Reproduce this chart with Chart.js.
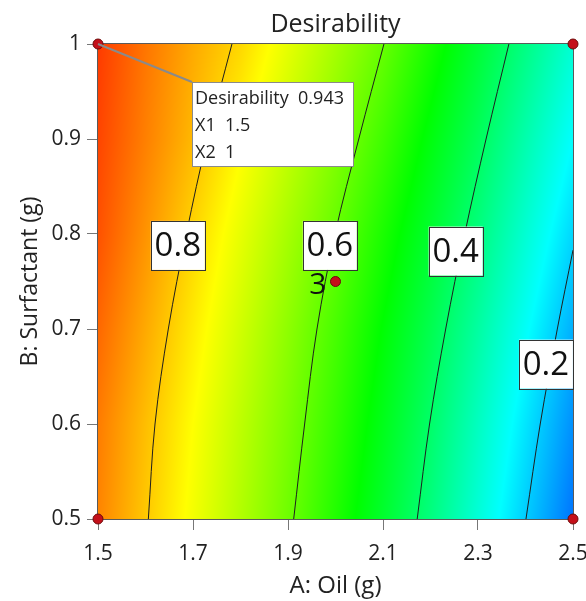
<!DOCTYPE html>
<html>
<head>
<meta charset="utf-8">
<script src="https://cdn.jsdelivr.net/npm/chart.js@4.4.0/dist/chart.umd.min.js"></script>
<style>
  html, body { margin: 0; padding: 0; background: #fff; }
  #wrap { width: 586px; height: 601px; }
</style>
</head>
<body>
<div id="wrap"><canvas id="chart" width="586" height="601"></canvas></div>
<script>
// Desirability on a coarse grid (A: Oil across, B: Surfactant rows)
const oilGrid = [1.5, 1.6, 1.7, 1.8, 1.9, 2.0, 2.1, 2.2, 2.3, 2.4, 2.5];
const surfGrid = [0.5, 0.6, 0.7, 0.8, 0.9, 1.0];
const desirAt050 = [0.870, 0.804, 0.739, 0.674, 0.608, 0.532, 0.455, 0.376, 0.288, 0.201, 0.114];
const desirAt060 = [0.879, 0.814, 0.750, 0.686, 0.622, 0.551, 0.475, 0.398, 0.312, 0.226, 0.141];
const desirAt070 = [0.899, 0.834, 0.769, 0.704, 0.639, 0.571, 0.497, 0.423, 0.342, 0.257, 0.172];
const desirAt080 = [0.921, 0.856, 0.791, 0.727, 0.663, 0.599, 0.526, 0.453, 0.377, 0.293, 0.210];
const desirAt090 = [0.933, 0.875, 0.819, 0.756, 0.693, 0.631, 0.562, 0.487, 0.413, 0.331, 0.250];
const desirAt100 = [0.943, 0.885, 0.834, 0.789, 0.726, 0.664, 0.601, 0.525, 0.449, 0.372, 0.292];
const desirRows = [desirAt050, desirAt060, desirAt070, desirAt080, desirAt090, desirAt100];

// Contour lines
const contourLevels = ['0.8', '0.6', '0.4', '0.2'];
const contour08 = [{x:1.606,y:0.5},{x:1.620,y:0.6},{x:1.648,y:0.7},{x:1.686,y:0.8},{x:1.730,y:0.9},{x:1.782,y:1.0}];
const contour06 = [{x:1.912,y:0.5},{x:1.935,y:0.6},{x:1.961,y:0.7},{x:1.999,y:0.8},{x:2.049,y:0.9},{x:2.102,y:1.0}];
const contour04 = [{x:2.172,y:0.5},{x:2.198,y:0.6},{x:2.232,y:0.7},{x:2.272,y:0.8},{x:2.317,y:0.9},{x:2.365,y:1.0}];
const contour02 = [{x:2.401,y:0.5},{x:2.431,y:0.6},{x:2.467,y:0.7},{x:2.500,y:0.783}];
const contourLines = [contour08, contour06, contour04, contour02];
const contourLabelAt = [{x:1.668,y:0.788},{x:1.988,y:0.788},{x:2.253,y:0.782},{x:2.443,y:0.663}];

// Design points (center point run 3 times)
const designPoints = [{x:1.5,y:0.5},{x:2.5,y:0.5},{x:1.5,y:1},{x:2.5,y:1},{x:2.0,y:0.75}];
const centerRuns = '3';

// Flagged point
const flagPoint = {x:1.5, y:1};
const flagText = ['Desirability  0.943', 'X1  1.5', 'X2  1'];

const xTicks = [1.5, 1.7, 1.9, 2.1, 2.3, 2.5];
const xTickLabels = ['1.5', '1.7', '1.9', '2.1', '2.3', '2.5'];
const yTicks = [0.5, 0.6, 0.7, 0.8, 0.9, 1.0];
const yTickLabels = ['0.5', '0.6', '0.7', '0.8', '0.9', '1'];

const FONT = '"Open Sans", "Noto Sans", sans-serif';
const TEXT = '#222';

// colour ramp blue -> cyan -> green -> yellow -> red over desirability 0..1
const ramp = [[0,0,255],[0,255,255],[0,255,0],[255,255,0],[255,0,0]];
function rampColor(v) {
  const t = Math.max(0, Math.min(1, v)) * (ramp.length - 1);
  const i = Math.min(ramp.length - 2, Math.floor(t));
  const f = t - i;
  return ramp[i].map((c, k) => Math.round(c + (ramp[i + 1][k] - c) * f));
}

function findCell(arr, v) {
  for (let i = 0; i < arr.length - 1; i++) {
    if (v <= arr[i + 1]) return i;
  }
  return arr.length - 2;
}

function desirAt(x, y) {
  const i = findCell(oilGrid, x), j = findCell(surfGrid, y);
  const fx = (x - oilGrid[i]) / (oilGrid[i + 1] - oilGrid[i]);
  const fy = (y - surfGrid[j]) / (surfGrid[j + 1] - surfGrid[j]);
  const a = desirRows[j][i], b = desirRows[j][i + 1];
  const c = desirRows[j + 1][i], d = desirRows[j + 1][i + 1];
  return (a * (1 - fx) + b * fx) * (1 - fy) + (c * (1 - fx) + d * fx) * fy;
}

const heatmapPlugin = {
  id: 'heatmap',
  beforeDatasetsDraw(chart) {
    const { ctx, chartArea: a, scales: { x, y } } = chart;
    const w = Math.round(a.right - a.left), h = Math.round(a.bottom - a.top);
    const off = document.createElement('canvas');
    off.width = w; off.height = h;
    const octx = off.getContext('2d');
    const img = octx.createImageData(w, h);
    for (let j = 0; j < h; j++) {
      const yv = y.getValueForPixel(a.top + j + 0.5);
      for (let i = 0; i < w; i++) {
        const xv = x.getValueForPixel(a.left + i + 0.5);
        const c = rampColor(desirAt(xv, yv));
        const k = (j * w + i) * 4;
        img.data[k] = c[0]; img.data[k + 1] = c[1]; img.data[k + 2] = c[2]; img.data[k + 3] = 255;
      }
    }
    octx.putImageData(img, 0, 0);
    ctx.save();
    ctx.drawImage(off, a.left, a.top);
    ctx.strokeStyle = '#5a5a5a';
    ctx.lineWidth = 1;
    ctx.strokeRect(a.left - 0.5, a.top - 0.5, w + 1, h + 1);
    ctx.restore();
  },
  afterDatasetsDraw(chart) {
    const { ctx, chartArea: a, scales: { x, y } } = chart;
    ctx.save();

    // contour labels
    ctx.font = '33px ' + FONT;
    ctx.textAlign = 'center';
    ctx.textBaseline = 'middle';
    contourLevels.forEach((lab, i) => {
      const px = x.getPixelForValue(contourLabelAt[i].x);
      const py = y.getPixelForValue(contourLabelAt[i].y);
      const bw = 54, bh = 49;
      ctx.fillStyle = '#fff';
      ctx.fillRect(px - bw / 2, py - bh / 2, bw, bh);
      ctx.strokeStyle = '#333';
      ctx.lineWidth = 1;
      ctx.strokeRect(Math.round(px - bw / 2) + 0.5, Math.round(py - bh / 2) + 0.5, bw, bh);
      ctx.fillStyle = '#111';
      ctx.fillText(lab, px, py + 1);
    });

    // replicate count next to the center point
    const cp = designPoints[4];
    ctx.font = '30px ' + FONT;
    ctx.textAlign = 'right';
    ctx.fillStyle = '#111';
    ctx.fillText(centerRuns, x.getPixelForValue(cp.x) - 9, y.getPixelForValue(cp.y) + 4);

    // flag
    const fx = x.getPixelForValue(flagPoint.x), fy = y.getPixelForValue(flagPoint.y);
    const bx = fx + 94, by = fy + 38, bw = 161, bh = 84;
    ctx.strokeStyle = '#8a8a8a';
    ctx.lineWidth = 2;
    ctx.beginPath();
    ctx.moveTo(fx, fy);
    ctx.lineTo(bx, by);
    ctx.stroke();
    ctx.fillStyle = '#fff';
    ctx.fillRect(bx, by, bw, bh);
    ctx.strokeStyle = '#8a8a8a';
    ctx.lineWidth = 1;
    ctx.strokeRect(Math.round(bx) + 0.5, Math.round(by) + 0.5, bw, bh);
    ctx.font = '18px ' + FONT;
    ctx.textAlign = 'left';
    ctx.textBaseline = 'middle';
    ctx.fillStyle = TEXT;
    flagText.forEach((t, i) => ctx.fillText(t, bx + 3, by + 17 + i * 27));

    // chart title over the plot area
    ctx.font = '25px ' + FONT;
    ctx.textAlign = 'center';
    ctx.textBaseline = 'alphabetic';
    ctx.fillText('Desirability', (a.left + a.right) / 2, 32);

    ctx.restore();
  }
};

const contourColor = '#1e1e1e';

new Chart(document.getElementById('chart'), {
  type: 'scatter',
  data: {
    datasets: [
      ...contourLines.map((pts, i) => ({
        label: contourLevels[i],
        data: pts,
        showLine: true,
        borderColor: contourColor,
        borderWidth: 1,
        pointRadius: 0,
        tension: 0.35,
        fill: false
      })),
      {
        label: 'Design points',
        data: designPoints,
        showLine: false,
        pointRadius: 5,
        pointHoverRadius: 5,
        pointBackgroundColor: '#c4101a',
        pointBorderColor: '#6e0a0a',
        pointBorderWidth: 1,
        clip: false
      }
    ]
  },
  options: {
    responsive: false,
    animation: false,
    layout: { padding: { top: 44, right: 13, left: 0, bottom: 0 } },
    plugins: {
      legend: { display: false },
      tooltip: { enabled: false },
      title: { display: false }
    },
    scales: {
      x: {
        type: 'linear',
        min: 1.5,
        max: 2.5,
        afterBuildTicks: s => { s.ticks = xTicks.map(v => ({ value: v })); },
        afterFit: s => { s.height = 82; s.paddingLeft = 0; s.paddingRight = 0; },
        ticks: {
          callback: (v, i) => xTickLabels[i],
          color: TEXT,
          font: { family: FONT, size: 21 },
          padding: 11,
          maxRotation: 0
        },
        grid: { drawOnChartArea: false, drawTicks: true, tickLength: 11, color: '#777' },
        border: { display: false },
        title: {
          display: true,
          text: 'A: Oil (g)',
          color: TEXT,
          font: { family: FONT, size: 24 },
          padding: { top: 0, bottom: 0 }
        }
      },
      y: {
        type: 'linear',
        min: 0.5,
        max: 1,
        afterBuildTicks: s => { s.ticks = yTicks.map(v => ({ value: v })); },
        afterFit: s => { s.width = 98; },
        ticks: {
          callback: (v, i) => yTickLabels[i],
          color: TEXT,
          font: { family: FONT, size: 21 },
          padding: 6
        },
        grid: { drawOnChartArea: false, drawTicks: true, tickLength: 11, color: '#777' },
        border: { display: false },
        title: {
          display: true,
          text: 'B: Surfactant (g)',
          color: TEXT,
          font: { family: FONT, size: 23 },
          padding: { top: 17, bottom: 0 }
        }
      }
    }
  },
  plugins: [heatmapPlugin]
});
</script>
</body>
</html>
